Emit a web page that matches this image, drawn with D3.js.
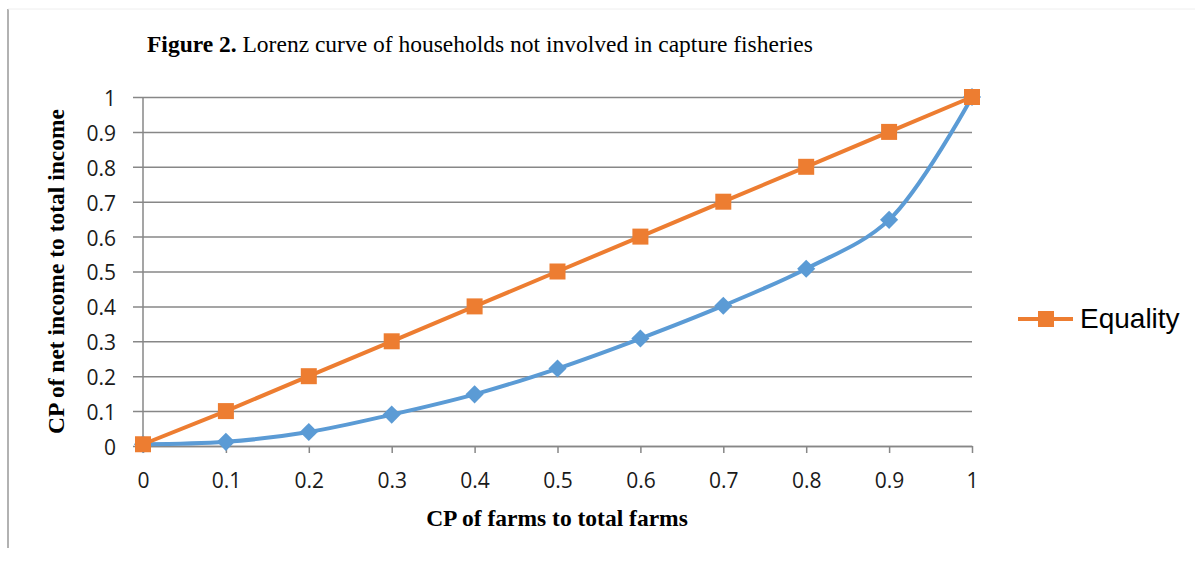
<!DOCTYPE html>
<html>
<head>
<meta charset="utf-8">
<script src="https://cdn.jsdelivr.net/npm/d3@7/dist/d3.min.js"></script>
<style>
  body { margin: 0; background: #fff; }
  .tick text { font-family: "Open Sans", "Noto Sans", sans-serif; font-size: 21px; fill: #1a1a1a; }
</style>
</head>
<body>
<div id="chart"></div>
<script>
var xValues = [0, 0.1, 0.2, 0.3, 0.4, 0.5, 0.6, 0.7, 0.8, 0.9, 1];
var lorenzValues = [0.005, 0.012, 0.04, 0.09, 0.148, 0.222, 0.308, 0.402, 0.508, 0.648, 1.0];
var equalityValues = [0.005, 0.1, 0.2, 0.3, 0.4, 0.5, 0.6, 0.7, 0.8, 0.9, 1.0];
var yTicks = [0, 0.1, 0.2, 0.3, 0.4, 0.5, 0.6, 0.7, 0.8, 0.9, 1];

var width = 1195, height = 565;
var margin = {top: 97, right: 223, bottom: 119, left: 143},
	chartWidth = width - margin.left - margin.right,
	chartHeight = height - margin.top - margin.bottom;

var svg = d3.select("#chart").append("svg")
	.attr("width", width)
	.attr("height", height);

// frame lines of the figure
svg.append("line").attr("x1", 8).attr("x2", 8).attr("y1", 9).attr("y2", 548)
	.attr("stroke", "#999").attr("stroke-width", 1.5);
svg.append("line").attr("x1", 8).attr("x2", width).attr("y1", 9).attr("y2", 9)
	.attr("stroke", "#eee").attr("stroke-width", 1);

svg.append("text")
	.attr("x", 147).attr("y", 52)
	.style("font-family", "'Liberation Serif', 'Times New Roman', serif")
	.style("font-size", "23.5px")
	.call(function(t) {
		t.append("tspan").style("font-weight", "bold").text("Figure 2.");
		t.append("tspan").text(" Lorenz curve of households not involved in capture fisheries");
	});

var g = svg.append("g")
	.attr("transform", "translate(" + margin.left + "," + margin.top + ")");

var x = d3.scaleLinear().domain([0, 1]).range([0, chartWidth]);
var y = d3.scaleLinear().domain([0, 1]).range([chartHeight, 0]);

// gridlines + y axis
var yAxis = g.append("g")
	.attr("class", "y axis")
	.call(d3.axisLeft(y).tickValues(yTicks).tickFormat(d3.format("")).tickSizeInner(-chartWidth).tickSizeOuter(0).tickPadding(27));
yAxis.select(".domain").remove();
yAxis.selectAll(".tick line").attr("stroke", "#878787").attr("stroke-width", 1.5).attr("x1", -10);
yAxis.selectAll(".tick text").attr("dy", "0.4em");

g.append("line").attr("x1", 0).attr("x2", 0).attr("y1", 0).attr("y2", chartHeight)
	.attr("stroke", "#878787").attr("stroke-width", 1.5);

var xAxis = g.append("g")
	.attr("class", "x axis")
	.attr("transform", "translate(0," + chartHeight + ")")
	.call(d3.axisBottom(x).tickValues(xValues).tickFormat(d3.format("")).tickSizeInner(7).tickSizeOuter(0).tickPadding(20));
xAxis.select(".domain").attr("stroke", "#878787").attr("stroke-width", 1.5);
xAxis.selectAll(".tick line").attr("stroke", "#878787").attr("stroke-width", 1.5);

var lorenz = xValues.map(function(d, i) { return {x: d, y: lorenzValues[i]}; });
var equality = xValues.map(function(d, i) { return {x: d, y: equalityValues[i]}; });

var blue = "#5B9BD5", orange = "#ED7D31";

g.append("path")
	.datum(lorenz)
	.attr("fill", "none")
	.attr("stroke", blue)
	.attr("stroke-width", 4)
	.attr("d", d3.line().x(function(d) { return x(d.x); }).y(function(d) { return y(d.y); }).curve(d3.curveCatmullRom.alpha(0.5)));

g.selectAll(".diamond")
	.data(lorenz)
	.enter().append("path")
	.attr("class", "diamond")
	.attr("transform", function(d) { return "translate(" + x(d.x) + "," + y(d.y) + ")"; })
	.attr("d", d3.symbol().type(d3.symbolDiamond2).size(210))
	.attr("fill", blue);

g.append("path")
	.datum(equality)
	.attr("fill", "none")
	.attr("stroke", orange)
	.attr("stroke-width", 4)
	.attr("d", d3.line().x(function(d) { return x(d.x); }).y(function(d) { return y(d.y); }));

g.selectAll(".square")
	.data(equality)
	.enter().append("rect")
	.attr("class", "square")
	.attr("x", function(d) { return x(d.x) - 8; })
	.attr("y", function(d) { return y(d.y) - 8; })
	.attr("width", 16).attr("height", 16)
	.attr("fill", orange);

// axis titles
svg.append("text")
	.attr("transform", "translate(64," + (margin.top + chartHeight / 2) + ") rotate(-90)")
	.attr("text-anchor", "middle")
	.style("font-family", "'Liberation Serif', 'Times New Roman', serif")
	.style("font-weight", "bold")
	.style("font-size", "23.5px")
	.text("CP of net income to total income");

svg.append("text")
	.attr("x", 557).attr("y", 526)
	.attr("text-anchor", "middle")
	.style("font-family", "'Liberation Serif', 'Times New Roman', serif")
	.style("font-weight", "bold")
	.style("font-size", "23.5px")
	.text("CP of farms to total farms");

// legend
var legend = svg.append("g").attr("transform", "translate(1018,319)");
legend.append("line").attr("x1", 0).attr("x2", 55).attr("y1", 0).attr("y2", 0)
	.attr("stroke", orange).attr("stroke-width", 4);
legend.append("rect").attr("x", 20).attr("y", -8).attr("width", 16).attr("height", 16).attr("fill", orange);
legend.append("text")
	.attr("x", 62).attr("y", 9)
	.style("font-family", "'Liberation Sans', Arial, sans-serif")
	.style("font-size", "28px")
	.text("Equality");
</script>
</body>
</html>
